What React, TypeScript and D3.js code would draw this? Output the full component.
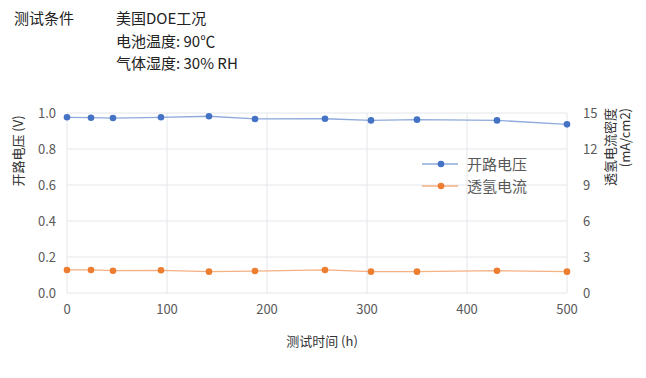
import React from "react";
import * as d3 from "d3";

const hours = [0, 24, 46, 94, 142, 188, 258, 304, 350, 430, 500];
const ocv = [0.976, 0.974, 0.972, 0.976, 0.982, 0.967, 0.968, 0.959, 0.963, 0.959, 0.937];
const crossover = [1.92, 1.92, 1.86, 1.89, 1.78, 1.83, 1.92, 1.78, 1.78, 1.86, 1.78];
const xTicks = [0, 100, 200, 300, 400, 500];
const leftTicks = [0, 0.2, 0.4, 0.6, 0.8, 1.0];
const rightTicks = [0, 3, 6, 9, 12, 15];
const legendLabels = ["开路电压", "透氢电流"];
const headerLabel = "测试条件";
const headerLines = ["美国DOE工况", "电池温度: 90℃", "气体湿度: 30% RH"];

const W = 646, H = 378;
const left = 67, right = 567, top = 113, bottom = 293;
const FONT = "'Noto Sans CJK SC', 'Noto Sans', sans-serif";

export default function App() {
  const x = d3.scaleLinear().domain([0, 500]).range([left, right]);
  const yL = d3.scaleLinear().domain([0, 1]).range([bottom, top]);
  const yR = d3.scaleLinear().domain([0, 15]).range([bottom, top]);
  const lineL = d3.line<number>().x((_, i) => x(hours[i])).y((d) => yL(d));
  const lineR = d3.line<number>().x((_, i) => x(hours[i])).y((d) => yR(d));
  const blue = "#4472c4", blueLine = "#8eaadb";
  const orange = "#ed7d31", orangeLine = "#f4b183";
  const grid = "#e3e6ea";
  const txt = "#595959";
  return (
    <svg width={W} height={H} style={{ position: "absolute", left: 0, top: 0 }} fontFamily={FONT}>
      <rect width={W} height={H} fill="#fff" />
      <text x={14} y={24} fontSize={15} fill="#222">{headerLabel}</text>
      {headerLines.map((t, i) => (
        <text key={i} x={116} y={24 + i * 22.5} fontSize={15} fill="#222">{t}</text>
      ))}
      {leftTicks.map((t) => (
        <line key={"h" + t} x1={left} x2={right} y1={yL(t)} y2={yL(t)} stroke={grid} strokeWidth={1} />
      ))}
      {xTicks.map((t) => (
        <line key={"v" + t} x1={x(t)} x2={x(t)} y1={top} y2={bottom} stroke={grid} strokeWidth={1} />
      ))}
      {leftTicks.map((t) => (
        <text key={"lt" + t} x={56} y={yL(t) + 4.5} fontSize={13} fill={txt} textAnchor="end">{t.toFixed(1)}</text>
      ))}
      {rightTicks.map((t) => (
        <text key={"rt" + t} x={583} y={yR(t) + 4.5} fontSize={13} fill={txt} textAnchor="start">{t}</text>
      ))}
      {xTicks.map((t) => (
        <text key={"xt" + t} x={x(t)} y={314} fontSize={13} fill={txt} textAnchor="middle">{t}</text>
      ))}
      <text x={322} y={346} fontSize={13} fill="#333" textAnchor="middle">测试时间 (h)</text>
      <text transform="translate(23,151) rotate(-90)" fontSize={13} fill="#333" textAnchor="middle">开路电压 (V)</text>
      <text transform="translate(615,108) rotate(-90)" fontSize={13} fill="#333" textAnchor="end">透氢电流密度</text>
      <text transform="translate(630,108) rotate(-90)" fontSize={13} fill="#333" textAnchor="end">(mA/cm2)</text>
      <path d={lineL(ocv) || ""} fill="none" stroke={blueLine} strokeWidth={1.3} />
      <path d={lineR(crossover) || ""} fill="none" stroke={orangeLine} strokeWidth={1.3} />
      {ocv.map((v, i) => (
        <circle key={"b" + i} cx={x(hours[i])} cy={yL(v)} r={3.3} fill={blue} />
      ))}
      {crossover.map((v, i) => (
        <circle key={"o" + i} cx={x(hours[i])} cy={yR(v)} r={3.3} fill={orange} />
      ))}
      {legendLabels.map((l, i) => (
        <g key={l} transform={`translate(0,${164 + i * 22})`}>
          <line x1={422} x2={458} y1={0} y2={0} stroke={i === 0 ? blueLine : orangeLine} strokeWidth={1.3} />
          <circle cx={441} cy={0} r={3.3} fill={i === 0 ? blue : orange} />
          <text x={467} y={5.5} fontSize={15} fill={txt}>{l}</text>
        </g>
      ))}
    </svg>
  );
}
